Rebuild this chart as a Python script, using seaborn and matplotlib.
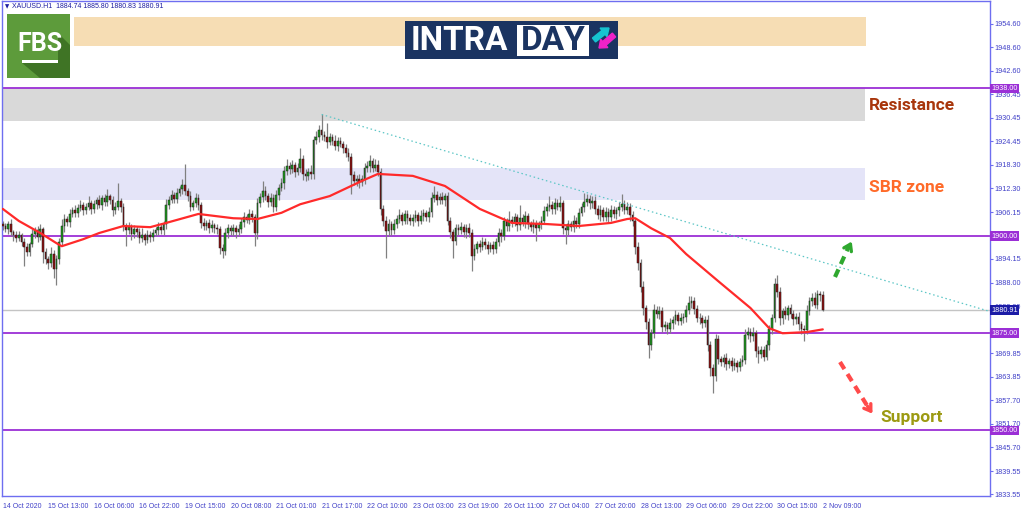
#!/usr/bin/env python3
"""
XAUUSD H1 intraday chart (FBS style) rebuilt with matplotlib + seaborn.
"""
import numpy as np
import pandas as pd
import matplotlib
matplotlib.use('Agg')
import matplotlib.pyplot as plt
import seaborn as sns
from matplotlib.patches import Rectangle, Polygon, FancyArrow

# ---------------------------------------------------------------- data
# hourly closes, one row per x-axis tick interval (17 bars)
closes = [
    1902.5, 1901.8, 1903.2, 1901.0, 1900.2, 1899.5, 1900.3, 1898.6, 1897.2, 1896.0, 1898.0, 1900.5, 1901.5, 1899.8, 1901.8, 1896.0, 1894.0,
    1893.0, 1895.5, 1891.5, 1894.0, 1898.5, 1902.5, 1904.5, 1903.6, 1905.8, 1906.8, 1906.0, 1907.3, 1908.0, 1906.8, 1907.6, 1908.4, 1907.0,
    1908.2, 1909.2, 1908.0, 1909.8, 1908.7, 1910.2, 1909.4, 1906.8, 1907.5, 1909.0, 1907.5, 1902.5, 1901.6, 1902.4, 1900.5, 1901.8, 1901.0,
    1899.5, 1900.2, 1899.0, 1900.4, 1899.8, 1900.8, 1901.5, 1902.4, 1901.6, 1903.0, 1908.0, 1909.2, 1910.5, 1909.6, 1911.2, 1912.0, 1913.2,
    1911.5, 1910.4, 1907.6, 1908.4, 1909.8, 1908.0, 1903.4, 1902.6, 1903.4, 1902.0, 1902.8, 1902.2, 1901.8, 1897.0, 1896.2, 1900.8, 1902.0,
    1901.2, 1902.0, 1901.0, 1901.8, 1903.6, 1905.0, 1904.2, 1905.6, 1904.8, 1900.8, 1908.6, 1910.0, 1911.6, 1910.2, 1908.8, 1909.8, 1907.4,
    1910.6, 1912.4, 1913.6, 1916.8, 1918.0, 1917.2, 1918.2, 1916.6, 1917.6, 1919.8, 1916.0, 1915.4, 1916.6, 1916.0, 1924.8, 1925.6, 1927.4,
    1926.0, 1925.4, 1924.2, 1925.4, 1924.6, 1923.2, 1924.4, 1923.8, 1922.6, 1921.4, 1920.4, 1915.8, 1914.2, 1914.8, 1913.8, 1914.6, 1917.4,
    1918.0, 1919.2, 1917.6, 1918.4, 1916.6, 1907.0, 1904.0, 1901.2, 1903.0, 1901.6, 1903.2, 1904.4, 1905.4, 1904.0, 1905.6, 1904.6, 1903.8,
    1904.6, 1905.4, 1904.0, 1905.2, 1906.0, 1905.0, 1906.2, 1909.8, 1910.6, 1909.4, 1910.0, 1909.2, 1910.2, 1904.0, 1901.0, 1898.8, 1902.0,
    1901.6, 1902.4, 1901.0, 1902.2, 1900.8, 1895.0, 1896.6, 1898.0, 1897.2, 1898.6, 1897.8, 1896.8, 1897.6, 1896.6, 1898.6, 1900.8, 1900.0,
    1903.8, 1902.6, 1904.2, 1903.4, 1904.8, 1902.8, 1904.6, 1903.6, 1905.2, 1903.0, 1902.4, 1903.2, 1902.2, 1903.0, 1904.0, 1906.4, 1907.4,
    1908.0, 1907.0, 1908.6, 1907.6, 1908.4, 1902.2, 1901.6, 1903.0, 1902.4, 1904.0, 1903.2, 1906.0, 1907.4, 1908.8, 1909.6, 1908.4, 1909.0,
    1907.0, 1905.4, 1906.6, 1905.0, 1906.2, 1905.0, 1906.8, 1905.6, 1906.6, 1907.4, 1908.2, 1906.8, 1907.6, 1905.4, 1903.8, 1897.2, 1893.0,
    1887.0, 1881.6, 1877.8, 1872.0, 1875.0, 1881.0, 1880.0, 1880.8, 1876.6, 1877.2, 1876.0, 1877.6, 1878.4, 1879.6, 1878.2, 1879.0, 1879.2,
    1881.0, 1882.8, 1883.4, 1881.2, 1879.0, 1878.8, 1877.6, 1878.4, 1872.0, 1866.0, 1864.0, 1873.4, 1868.4, 1867.6, 1868.6, 1867.0, 1867.8,
    1866.6, 1867.4, 1866.4, 1867.6, 1868.2, 1874.6, 1875.4, 1874.2, 1875.0, 1870.4, 1869.6, 1870.8, 1869.0, 1872.0, 1876.2, 1878.8, 1887.6,
    1885.6, 1878.8, 1880.6, 1879.6, 1881.4, 1880.0, 1878.6, 1879.2, 1877.4, 1876.2, 1875.8, 1880.8, 1883.4, 1884.2, 1882.4, 1885.0, 1884.74,
    1880.91,
]
first_open = 1903.0

# wick lengths above / below the candle body (USD)
upper_wicks = [
    0.8, 1.0, 0.6, 1.2, 0.7, 1.0, 0.9, 0.5, 0.8, 1.1, 0.6, 1.4, 0.8, 1.0, 1.4, 0.6, 1.0,
    0.8, 1.6, 0.9, 1.2, 1.0, 1.8, 1.2, 0.8, 1.1, 0.7, 1.3, 0.9, 1.2, 0.8, 1.0, 2.0, 0.9,
    1.2, 0.8, 1.4, 0.9, 1.0, 1.8, 0.7, 1.0, 1.2, 4.7, 0.8, 1.0, 0.9, 1.2, 0.6, 1.0, 0.8,
    1.0, 2.0, 0.7, 1.2, 0.9, 1.0, 0.8, 1.2, 0.9, 1.0, 1.6, 1.2, 1.4, 0.8, 1.3, 1.0, 1.6,
    5.3, 1.0, 1.2, 0.8, 1.4, 1.0, 0.9, 1.2, 0.8, 1.0, 1.3, 0.7, 1.0, 0.8, 1.0, 1.2, 1.0,
    0.9, 1.1, 0.8, 1.3, 1.0, 1.2, 0.8, 1.4, 1.0, 0.9, 1.2, 1.0, 2.6, 1.2, 0.8, 1.4, 1.0,
    1.2, 1.0, 1.4, 1.2, 1.8, 1.0, 1.4, 0.9, 1.2, 2.9, 1.0, 1.2, 0.8, 1.6, 1.0, 1.4, 1.2,
    3.9, 1.0, 3.6, 1.2, 0.8, 1.4, 1.0, 1.2, 0.8, 1.0, 1.2, 0.9, 1.0, 0.8, 1.2, 1.0, 1.4,
    1.2, 1.6, 1.0, 1.4, 1.2, 0.8, 1.0, 1.2, 1.4, 0.9, 1.2, 1.0, 1.6, 0.8, 1.2, 1.0, 1.2,
    1.0, 1.2, 0.9, 1.4, 1.0, 0.8, 1.4, 1.6, 2.3, 1.0, 1.2, 1.4, 1.0, 1.2, 1.0, 0.8, 1.2,
    1.0, 1.2, 0.8, 1.0, 1.2, 1.0, 1.4, 0.8, 1.0, 1.2, 0.9, 1.0, 0.8, 1.2, 1.0, 1.4, 1.0,
    1.2, 0.8, 2.2, 1.0, 1.2, 0.9, 3.4, 1.0, 1.2, 0.8, 1.0, 1.2, 0.9, 1.0, 1.2, 1.4, 1.0,
    2.3, 1.0, 1.2, 0.9, 1.9, 0.8, 1.0, 1.2, 0.9, 1.4, 1.0, 1.2, 1.0, 2.2, 1.2, 1.0, 1.4,
    1.2, 1.0, 1.4, 0.8, 1.2, 1.0, 1.2, 0.9, 1.0, 1.4, 2.6, 1.0, 1.2, 0.9, 1.0, 0.8, 1.2,
    1.0, 1.4, 0.8, 1.0, 1.2, 1.6, 1.0, 1.2, 0.9, 1.0, 0.8, 1.2, 1.0, 1.4, 0.9, 1.2, 1.0,
    1.2, 1.8, 1.2, 0.9, 1.0, 1.2, 0.8, 1.0, 1.2, 0.9, 1.0, 1.4, 1.2, 0.8, 1.0, 1.2, 0.9,
    1.0, 1.2, 0.8, 1.0, 1.2, 1.4, 1.2, 1.0, 1.6, 0.9, 1.2, 1.0, 0.8, 1.2, 1.0, 1.2, 1.6,
    2.4, 1.2, 1.0, 1.4, 1.0, 1.2, 0.9, 1.0, 1.2, 0.8, 1.0, 1.4, 1.0, 1.2, 1.4, 1.2, 1.0,
    1.1,
]
lower_wicks = [
    1.0, 0.8, 1.2, 0.9, 1.4, 1.0, 0.8, 1.2, 5.0, 1.0, 1.2, 0.8, 1.0, 1.4, 0.9, 3.0, 1.2,
    1.4, 1.0, 2.3, 4.0, 1.2, 0.9, 1.4, 1.0, 1.2, 0.8, 1.0, 1.2, 0.9, 1.4, 1.0, 0.8, 1.2,
    1.0, 1.2, 0.8, 1.4, 1.0, 0.9, 1.2, 1.6, 1.0, 0.8, 1.4, 1.2, 4.2, 1.0, 1.4, 0.9, 1.2,
    1.4, 1.0, 1.2, 0.8, 1.4, 1.0, 0.9, 1.2, 1.0, 1.4, 1.2, 1.0, 0.8, 1.2, 1.0, 0.9, 1.2,
    1.0, 1.4, 1.2, 1.0, 0.8, 1.2, 1.4, 1.0, 0.9, 1.2, 1.0, 1.4, 1.2, 1.6, 1.8, 1.0, 1.2,
    1.0, 1.2, 1.4, 0.9, 1.0, 1.2, 0.8, 1.0, 1.2, 3.4, 1.6, 1.0, 1.2, 0.9, 1.4, 1.0, 1.2,
    1.0, 1.2, 0.9, 1.4, 1.0, 1.2, 1.0, 1.4, 0.8, 1.0, 1.6, 1.2, 1.0, 1.4, 1.2, 1.0, 1.4,
    1.2, 1.0, 1.4, 0.8, 1.2, 1.0, 1.4, 0.9, 1.2, 1.0, 1.2, 5.0, 1.0, 1.2, 1.4, 1.0, 1.2,
    1.0, 1.4, 1.2, 0.9, 1.2, 1.6, 1.4, 6.8, 1.2, 1.4, 1.0, 1.2, 0.9, 1.2, 1.0, 1.4, 1.0,
    1.2, 1.0, 1.4, 0.8, 1.2, 1.0, 1.4, 1.2, 1.0, 1.4, 1.2, 1.0, 1.4, 1.2, 1.6, 4.4, 1.2,
    1.4, 1.0, 1.2, 1.4, 1.0, 4.0, 1.2, 1.0, 1.4, 0.9, 1.2, 1.4, 1.0, 1.2, 0.9, 1.2, 1.4,
    1.0, 1.4, 1.2, 1.0, 0.9, 1.4, 1.2, 1.0, 1.4, 1.2, 1.0, 1.6, 3.5, 1.0, 1.2, 0.9, 1.2,
    1.0, 1.4, 1.2, 1.0, 1.2, 1.6, 3.6, 1.2, 1.0, 1.4, 1.2, 1.0, 0.9, 1.2, 1.0, 1.4, 1.2,
    1.2, 1.0, 1.4, 1.2, 1.0, 1.4, 1.2, 1.0, 1.2, 1.4, 1.0, 1.2, 1.0, 1.4, 1.2, 1.8, 1.6,
    1.4, 2.0, 1.6, 3.4, 1.4, 1.2, 1.0, 1.4, 1.2, 1.0, 1.2, 1.0, 1.4, 1.0, 1.2, 1.0, 1.4,
    1.2, 1.0, 1.4, 1.2, 1.0, 1.4, 1.2, 1.0, 1.6, 2.0, 4.4, 1.2, 1.4, 1.0, 1.2, 1.4, 1.0,
    1.2, 1.0, 1.4, 1.2, 1.0, 1.2, 1.0, 1.4, 1.2, 1.4, 2.2, 1.0, 1.2, 1.0, 1.2, 1.4, 1.0,
    1.2, 1.6, 1.4, 1.0, 1.2, 1.0, 1.4, 1.2, 1.6, 1.4, 2.8, 1.0, 1.2, 1.4, 1.0, 1.2, 1.4,
    0.1,
]

# 50-period moving average at selected bars
ma_bars = [0, 6, 14, 20, 22, 30, 36, 45, 55, 61, 73, 86, 95, 104, 111, 122, 134, 140,
           153, 165, 178, 190, 203, 215, 227, 233, 236, 242, 249, 255, 267, 279, 286,
           291, 300, 306]
ma_values = [1907.0, 1903.9, 1900.8, 1898.2, 1897.4, 1899.2, 1900.8, 1902.6, 1902.3,
             1903.4, 1905.7, 1904.6, 1904.4, 1906.0, 1908.2, 1910.3, 1914.2, 1916.0,
             1915.5, 1912.9, 1907.0, 1903.4, 1903.1, 1902.6, 1903.4, 1904.4, 1904.6,
             1902.0, 1899.5, 1895.4, 1888.4, 1881.5, 1876.3, 1875.0, 1875.3, 1876.0]

levels = [1938.0, 1900.0, 1875.0, 1850.0]
last_price = 1880.91
trend_bars = [119, 368.4]
trend_prices = [1931.3, 1880.6]
resistance_zone = [1929.6, 1938.0]
sbr_zone = [1909.3, 1917.5]
zone_end_bar = 321.7

price_ticks = [1954.60, 1948.60, 1942.60, 1936.45, 1930.45, 1924.45, 1918.30, 1912.30,
               1906.15, 1894.15, 1888.00, 1882.00, 1869.85, 1863.85,
               1857.70, 1851.70, 1845.70, 1839.55, 1833.55]
time_labels = ['14 Oct 2020', '15 Oct 13:00', '16 Oct 06:00', '16 Oct 22:00',
               '19 Oct 15:00', '20 Oct 08:00', '21 Oct 01:00', '21 Oct 17:00',
               '22 Oct 10:00', '23 Oct 03:00', '23 Oct 19:00', '26 Oct 11:00',
               '27 Oct 04:00', '27 Oct 20:00', '28 Oct 13:00', '29 Oct 06:00',
               '29 Oct 22:00', '30 Oct 15:00', '2 Nov 09:00']
bars_per_label = 17
header = 'XAUUSD.H1  1884.74 1885.80 1880.83 1880.91'

# ---------------------------------------------------------------- frame
df = pd.DataFrame({'close': closes})
df['open'] = [first_open] + closes[:-1]
df['high'] = np.maximum(df['open'], df['close']) + np.array(upper_wicks)
df['low'] = np.minimum(df['open'], df['close']) - np.array(lower_wicks)
df['bar'] = np.arange(len(df))

sns.set_style('white')
plt.rcParams['font.family'] = ['Liberation Sans', 'DejaVu Sans']

AXIS_BLUE = '#6e6ef0'
LABEL_BLUE = '#4040c8'
VIOLET = '#9b2fd6'

fig = plt.figure(figsize=(10.24, 5.11), dpi=100)
ax = fig.add_axes([1.7 / 1024, 15.3 / 511, 988.3 / 1024, 494.7 / 511])
ax.set_xlim(-0.4, 368.4)
ax.set_ylim(1833.2, 1960.5)

# zones
ax.add_patch(Rectangle((-0.4, resistance_zone[0]), zone_end_bar + 0.4,
                       resistance_zone[1] - resistance_zone[0],
                       facecolor='#d9d9d9', edgecolor='none', zorder=1))
ax.add_patch(Rectangle((-0.4, sbr_zone[0]), zone_end_bar + 0.4,
                       sbr_zone[1] - sbr_zone[0],
                       facecolor='#e4e4f8', edgecolor='none', zorder=1))

# horizontal levels
for lv in levels:
    ax.axhline(lv, color=VIOLET, lw=1.3, zorder=2)
ax.axhline(last_price, color='#c4c4c4', lw=1.0, zorder=2)

# candles
up = df['close'] >= df['open']
body_low = np.minimum(df['open'], df['close'])
body_h = np.maximum((df['close'] - df['open']).abs(), 0.15)
ax.vlines(df['bar'], df['low'], df['high'], color='#808080', lw=0.9, zorder=3)
ax.bar(df['bar'][up], body_h[up], bottom=body_low[up], width=0.62,
       color='#1f9a1f', edgecolor='#202020', lw=0.35, zorder=4)
ax.bar(df['bar'][~up], body_h[~up], bottom=body_low[~up], width=0.62,
       color='#8e1010', edgecolor='#202020', lw=0.35, zorder=4)

# moving average + trend line
sns.lineplot(x=ma_bars, y=ma_values, ax=ax, color='#ff2a2a', lw=1.6, zorder=5)
ax.plot(trend_bars, trend_prices, color='#5cc6c6', lw=0.9, dashes=(1.2, 2.2), zorder=5)

# labels in the chart
ax.text(323.1, 1933.6, 'Resistance', color='#a8360c', fontsize=12.5,
        fontweight='bold', family=['Roboto', 'DejaVu Sans'], va='center', zorder=6)
ax.text(323.1, 1912.6, 'SBR zone', color='#ff6a28', fontsize=12.5,
        fontweight='bold', family=['Roboto', 'DejaVu Sans'], va='center', zorder=6)
ax.text(327.4, 1853.2, 'Support', color='#9c9a12', fontsize=12.5,
        fontweight='bold', family=['Roboto', 'DejaVu Sans'], va='center', zorder=6)

# axes styling (MT4 look)
for sp in ax.spines.values():
    sp.set_color(AXIS_BLUE)
    sp.set_linewidth(1.0)
ax.yaxis.tick_right()
ax.set_yticks(price_ticks)
ax.set_yticklabels([f'{p:.2f}' for p in price_ticks])
ax.tick_params(axis='y', direction='out', length=2, width=0.8, pad=1.5,
               labelsize=5.2, colors=AXIS_BLUE, labelcolor=LABEL_BLUE)
tick_pos = [i * bars_per_label for i in range(len(time_labels))]
ax.set_xticks(tick_pos)
ax.set_xticklabels(time_labels, ha='left')
ax.tick_params(axis='x', direction='out', length=3, width=0.8, pad=2,
               labelsize=5.0, colors=AXIS_BLUE, labelcolor=LABEL_BLUE)
ax.set_xlabel('')
ax.set_ylabel('')

# boxed price labels on the right scale
ytr = ax.get_yaxis_transform()
for lv in levels:
    ax.text(1.0015, lv, f'{lv:.2f}', transform=ytr, fontsize=5.2, color='white',
            va='center', ha='left', clip_on=False, zorder=7,
            bbox=dict(boxstyle='square,pad=0.18', fc=VIOLET, ec='none'))
ax.text(1.0015, last_price, f'{last_price:.2f}', transform=ytr, fontsize=5.2,
        color='white', va='center', ha='left', clip_on=False, zorder=7,
        bbox=dict(boxstyle='square,pad=0.18', fc='#1c1ca6', ec='none'))

# ---------------------------------------------------------------- overlay (pixel coords)
ov = fig.add_axes([0, 0, 1, 1], zorder=10)
ov.set_xlim(0, 1024)
ov.set_ylim(511, 0)
ov.axis('off')
ov.patch.set_alpha(0)

ov.text(5, 7, '\u25bc', fontsize=4, color='#1c1ca0', va='center', family='DejaVu Sans')
ov.text(12, 7, header, fontsize=5, color='#1c1ca0', va='center')

# banner strip
ov.add_patch(Rectangle((74, 17), 792, 29, facecolor='#f6ddb4', edgecolor='none'))

# FBS logo
ov.add_patch(Rectangle((7, 14), 63, 64, facecolor='#5d9b3b', edgecolor='none'))
ov.add_patch(Polygon([(58, 33), (70, 45), (70, 78), (40, 78), (22, 63), (58, 63)],
                     closed=True, facecolor='#3f7425', edgecolor='none'))
ov.text(40, 44, 'FBS', color='white', fontsize=18, fontweight='bold',
        family=['Roboto', 'DejaVu Sans'], ha='center', va='center')
ov.add_patch(Rectangle((22, 60), 36, 3, facecolor='white', edgecolor='none'))

# INTRADAY logo
ov.add_patch(Rectangle((405, 21), 213, 38, facecolor='#1b3461', edgecolor='none'))
ov.add_patch(Rectangle((517, 25), 72, 31, facecolor='white', edgecolor='none'))
ov.text(411, 41, 'INTRA', color='white', fontsize=24, fontweight='bold',
        family=['Roboto', 'DejaVu Sans'], ha='left', va='center')
ov.text(553, 41, 'DAY', color='#1b3461', fontsize=24, fontweight='bold',
        family=['Roboto', 'DejaVu Sans'], ha='center', va='center')
ov.add_patch(FancyArrow(594, 40, 15, -12, width=5, head_width=11, head_length=7,
                        length_includes_head=True, color='#16c3d0'))
ov.add_patch(FancyArrow(614, 35, -15, 13, width=5, head_width=11, head_length=7,
                        length_includes_head=True, color='#ee22c8'))

# dashed direction arrows
ov.plot([835, 849], [277, 246], color='#2fa82f', lw=3, dashes=(2.0, 1.4),
        solid_capstyle='butt')
ov.annotate('', xy=(853, 239), xytext=(847, 251),
            arrowprops=dict(arrowstyle='->,head_length=0.45,head_width=0.3',
                            color='#2fa82f', lw=2.4))
ov.plot([840, 868], [362, 407], color='#ff4a4a', lw=3, dashes=(2.0, 1.4),
        solid_capstyle='butt')
ov.annotate('', xy=(874, 416), xytext=(866, 404),
            arrowprops=dict(arrowstyle='->,head_length=0.45,head_width=0.3',
                            color='#ff4a4a', lw=2.4))

fig.savefig('out.png', dpi=100)
